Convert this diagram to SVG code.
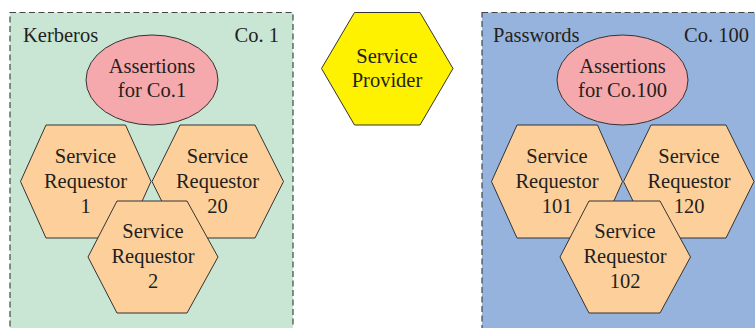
<svg xmlns="http://www.w3.org/2000/svg" width="755" height="328" viewBox="0 0 755 328">
<style>
.box{stroke:#444;stroke-width:1.2;stroke-dasharray:6,3.5}
.ell{fill:#f6a9ac;stroke:#333;stroke-width:1}
.hex{fill:#fdd09b;stroke:#333;stroke-width:1}
.prov{fill:#fff200;stroke:#333;stroke-width:1}
text{font-family:"Liberation Serif","Times New Roman",serif;font-size:20.5px;fill:#231f20}
.c{text-anchor:middle}
.e{text-anchor:end}
</style>
<rect width="755" height="328" fill="#ffffff"/>
<g id="company1">
<rect class="box" x="10" y="12.5" width="283" height="330" fill="#c9e5d3"/>
<text x="23" y="42">Kerberos</text>
<text class="e" x="279" y="42">Co. 1</text>
</g>
<g id="company100">
<rect class="box" x="482" y="12.5" width="290" height="330" fill="#95b3dc"/>
<text x="493" y="42">Passwords</text>
<text class="e" x="749" y="42">Co. 100</text>
</g>
<g id="assertions1">
<ellipse class="ell" cx="152" cy="80" rx="66" ry="45"/>
<text class="c" x="152" y="73">Assertions</text>
<text class="c" x="152" y="97">for Co.1</text>
</g>
<g id="assertions100">
<ellipse class="ell" cx="622.5" cy="80" rx="65.5" ry="45"/>
<text class="c" x="622.5" y="73">Assertions</text>
<text class="c" x="622.5" y="97">for Co.100</text>
</g>
<g id="provider">
<polygon class="prov" points="321.5,68.5 354.5,12.5 420,12.5 453,68.5 420,125 354.5,125"/>
<text class="c" x="387" y="63">Service</text>
<text class="c" x="387" y="87">Provider</text>
</g>
<g id="sr1">
<polygon class="hex" points="20.5,181.5 46,125 125.5,125 151,181.5 125.5,238 46,238"/>
<text class="c" x="85.5" y="163">Service</text>
<text class="c" x="85.5" y="188">Requestor</text>
<text class="c" x="85.5" y="213">1</text>
</g>
<g id="sr20">
<polygon class="hex" points="152,181.5 180,125 255,125 283.5,181.5 255,238 180,238"/>
<text class="c" x="217.5" y="163">Service</text>
<text class="c" x="217.5" y="188">Requestor</text>
<text class="c" x="217.5" y="213">20</text>
</g>
<g id="sr2">
<polygon class="hex" points="88,257 117,201 187,201 218,257 187,313 117,313"/>
<text class="c" x="153" y="238">Service</text>
<text class="c" x="153" y="263">Requestor</text>
<text class="c" x="153" y="288">2</text>
</g>
<g id="sr101">
<polygon class="hex" points="491.5,181.5 517,125 597.5,125 622.5,181.5 597.5,238 517,238"/>
<text class="c" x="557" y="163">Service</text>
<text class="c" x="557" y="188">Requestor</text>
<text class="c" x="557" y="213">101</text>
</g>
<g id="sr120">
<polygon class="hex" points="623.5,181.5 651,125 726,125 754,181.5 726,238 651,238"/>
<text class="c" x="689" y="163">Service</text>
<text class="c" x="689" y="188">Requestor</text>
<text class="c" x="689" y="213">120</text>
</g>
<g id="sr102">
<polygon class="hex" points="560,257 589,201 660,201 690.5,257 660,313 589,313"/>
<text class="c" x="625" y="238">Service</text>
<text class="c" x="625" y="263">Requestor</text>
<text class="c" x="625" y="288">102</text>
</g>
<g id="connectors"></g>
</svg>
